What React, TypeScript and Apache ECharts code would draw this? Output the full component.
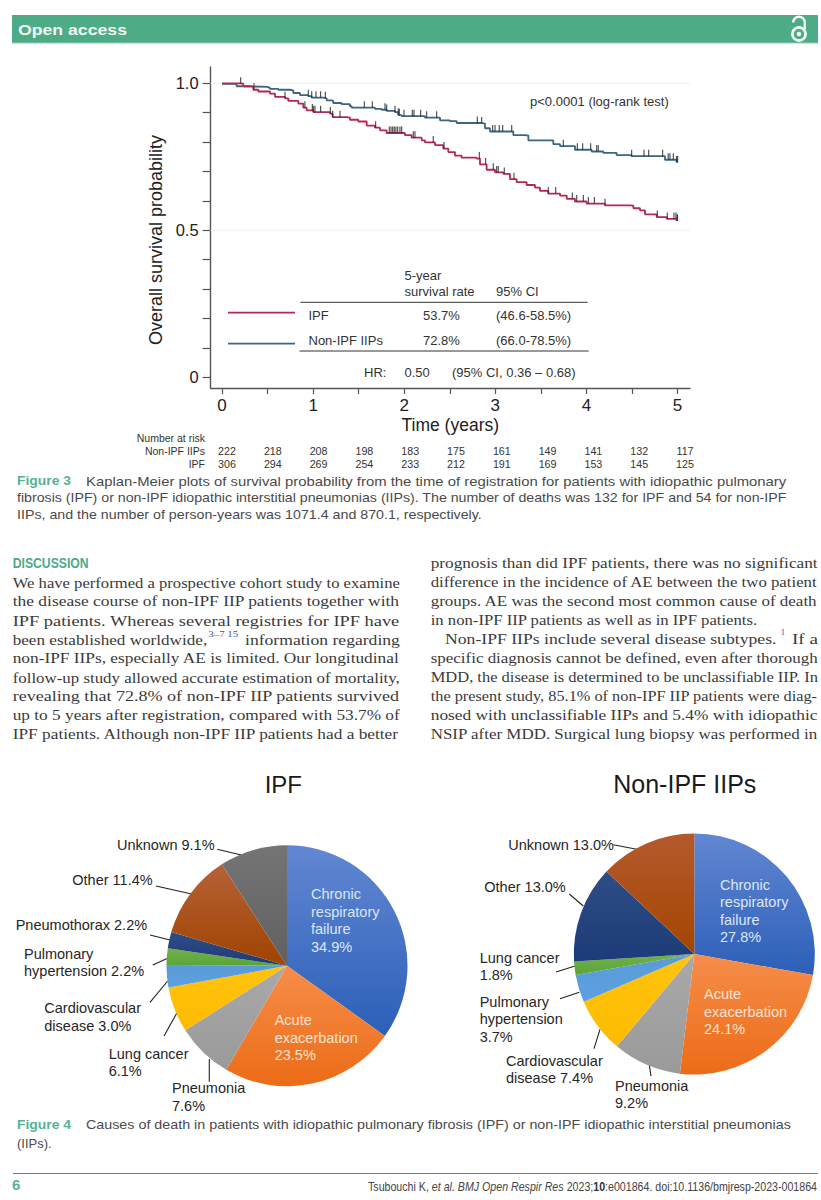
import React, { useEffect, useRef } from "react";
import * as echarts from "echarts";

// ---------- Kaplan-Meier data (time in years, survival probability) ----------
const nonIpfTimes = [0, 0.142, 0.16, 0.233, 0.508, 0.526, 0.617, 0.746, 0.782, 0.855, 0.947, 0.984, 1.112, 1.148, 1.203, 1.221, 1.313, 1.404, 1.423, 1.642, 1.679, 1.752, 1.807, 1.899, 1.935, 1.972, 2.192, 2.228, 2.356, 2.393, 2.502, 2.576, 2.777, 2.85, 2.887, 2.942, 3.18, 3.198, 3.326, 3.363, 3.601, 3.637, 3.711, 3.857, 3.875, 4.04, 4.058, 4.168, 4.186, 4.314, 4.332, 4.479, 4.497, 4.827, 4.863, 4.955, 4.991];
const nonIpfSurvival = [0.998, 0.997, 0.99, 0.988, 0.985, 0.981, 0.978, 0.976, 0.967, 0.96, 0.956, 0.951, 0.949, 0.942, 0.94, 0.933, 0.929, 0.922, 0.917, 0.917, 0.913, 0.91, 0.906, 0.902, 0.892, 0.888, 0.888, 0.883, 0.883, 0.874, 0.871, 0.865, 0.865, 0.863, 0.847, 0.836, 0.836, 0.824, 0.822, 0.806, 0.806, 0.793, 0.786, 0.786, 0.774, 0.774, 0.768, 0.768, 0.763, 0.763, 0.756, 0.756, 0.752, 0.752, 0.74, 0.74, 0.731];
const ipfTimes = [0, 0.197, 0.233, 0.325, 0.343, 0.398, 0.526, 0.581, 0.691, 0.727, 0.837, 0.892, 0.929, 1.002, 1.075, 1.185, 1.214, 1.368, 1.404, 1.496, 1.588, 1.679, 1.734, 1.807, 1.972, 2.008, 2.081, 2.137, 2.192, 2.228, 2.338, 2.429, 2.484, 2.557, 2.63, 2.795, 2.832, 2.905, 2.997, 3.088, 3.161, 3.234, 3.344, 3.436, 3.491, 3.582, 3.711, 3.784, 3.875, 4.003, 4.205, 4.479, 4.516, 4.589, 4.644, 4.772, 4.882, 4.991];
const ipfSurvival = [1, 0.999, 0.99, 0.988, 0.978, 0.972, 0.965, 0.954, 0.949, 0.94, 0.931, 0.917, 0.908, 0.902, 0.902, 0.897, 0.885, 0.883, 0.876, 0.87, 0.856, 0.849, 0.84, 0.831, 0.831, 0.824, 0.815, 0.815, 0.806, 0.799, 0.79, 0.778, 0.766, 0.754, 0.747, 0.744, 0.724, 0.706, 0.697, 0.692, 0.674, 0.664, 0.654, 0.645, 0.634, 0.625, 0.618, 0.607, 0.598, 0.591, 0.585, 0.584, 0.575, 0.568, 0.554, 0.545, 0.539, 0.532];
const nonIpfCensored = [0.947, 0.984, 1.031, 1.082, 1.134, 1.562, 1.65, 1.789, 1.807, 1.899, 1.935, 1.946, 1.997, 2.089, 2.107, 2.18, 2.246, 2.356, 2.803, 2.85, 2.971, 2.997, 3.044, 3.081, 3.18, 3.747, 3.901, 3.959, 4.047, 4.113, 4.131, 4.497, 4.633, 4.684, 4.837, 4.899, 4.918, 4.955, 4.991, 5.002];
const ipfCensored = [0.204, 0.35, 0.691, 0.91, 0.991, 1.002, 1.02, 1.082, 1.189, 1.214, 1.295, 1.686, 1.836, 1.855, 1.873, 1.891, 1.909, 1.928, 1.953, 1.972, 2.1, 2.118, 2.319, 2.437, 2.825, 2.894, 2.978, 3.015, 3.033, 3.099, 3.205, 3.582, 3.663, 3.846, 3.894, 3.967, 4.022, 4.088, 4.205, 4.779, 4.889, 4.962, 4.984, 4.998, 5.0];
const xTickValues = [0, 0.5, 1, 1.5, 2, 2.5, 3, 3.5, 4, 4.5, 5];
const xLabelValues = [0, 1, 2, 3, 4, 5];
const yTickValues = [0, 0.1, 0.2, 0.3, 0.4, 0.5, 0.6, 0.7, 0.8, 0.9, 1];
const yLabelValues = [0, 0.5, 1];
const refLines = [1, 0.5];
const riskNonIpf = [222, 218, 208, 198, 183, 175, 161, 149, 141, 132, 117];
const riskIpf = [306, 294, 269, 254, 233, 212, 191, 169, 153, 145, 125];

// ---------- Pie data ----------
const ipfCauseNames = ["Chronic\nrespiratory\nfailure\n", "Acute\nexacerbation\n", "Pneumonia\n", "Lung cancer\n", "Cardiovascular\ndisease ", "Pulmonary\nhypertension ", "Pneumothorax ", "Other ", "Unknown "];
const ipfCauseValues = [34.9, 23.5, 7.6, 6.1, 3.0, 2.2, 2.2, 11.4, 9.1];
const nonIpfCauseNames = ["Chronic\nrespiratory\nfailure\n", "Acute\nexacerbation\n", "Pneumonia\n", "Cardiovascular\ndisease ", "Pulmonary\nhypertension\n", "Lung cancer\n", "Other ", "Unknown "];
const nonIpfCauseValues = [27.8, 24.1, 9.2, 7.4, 3.7, 1.8, 13.0, 13.0];

// ---------- Article text ----------
const fig3Lines = [
  "Kaplan-Meier plots of survival probability from the time of registration for patients with idiopathic pulmonary",
  "fibrosis (IPF) or non-IPF idiopathic interstitial pneumonias (IIPs). The number of deaths was 132 for IPF and 54 for non-IPF",
  "IIPs, and the number of person-years was 1071.4 and 870.1, respectively.",
];
const fig4Lines = [
  "Causes of death in patients with idiopathic pulmonary fibrosis (IPF) or non-IPF idiopathic interstitial pneumonias",
  "(IIPs).",
];
const leftColumn = [
  "We have performed a prospective cohort study to examine",
  "the disease course of non-IPF IIP patients together with",
  "IPF patients. Whereas several registries for IPF have",
  "",
  "non-IPF IIPs, especially AE is limited. Our longitudinal",
  "follow-up study allowed accurate estimation of mortality,",
  "revealing that 72.8% of non-IPF IIP patients survived",
  "up to 5 years after registration, compared with 53.7% of",
  "IPF patients. Although non-IPF IIP patients had a better",
];
const rightColumn = [
  "prognosis than did IPF patients, there was no significant",
  "difference in the incidence of AE between the two patient",
  "groups. AE was the second most common cause of death",
  "",
  "",
  "specific diagnosis cannot be defined, even after thorough",
  "MDD, the disease is determined to be unclassifiable IIP. In",
  "the present study, 85.1% of non-IPF IIP patients were diag-",
  "nosed with unclassifiable IIPs and 5.4% with idiopathic",
  "NSIP after MDD. Surgical lung biopsy was performed in",
];

// ---------- Styles ----------
const SANS = '"Liberation Sans", Arial, sans-serif';
const SERIF = '"Liberation Serif", "Times New Roman", serif';
const NARROW = '"Liberation Sans Narrow", "Liberation Sans", sans-serif';
const GREEN = "#4dab85";
const CAPTION_GREEN = "#56b294";
const RED = "#b5294f";
const BLUE = "#3b6584";
const BODY = "#3a3a3a";
const CAPTION = "#4a4a4a";
const LABEL = "#262626";
const AXIS = "#555555";

const grad = (a: string, b: string) => ({
  type: "linear", x: 0, y: 0, x2: 0, y2: 1,
  colorStops: [{ offset: 0, color: a }, { offset: 1, color: b }],
});
const sliceBlue = grad("#6287d2", "#2c5fb8");
const sliceOrange = grad("#f68d4a", "#ec6c17");
const sliceGray = grad("#a9a9a9", "#9a9a9a");
const sliceYellow = grad("#ffc40d", "#fdbb00");
const sliceSky = grad("#5b9bd5", "#5aa0e2");
const sliceGreen = grad("#72b04a", "#5aa53a");
const sliceNavy = grad("#2f4d85", "#1c3b78");
const sliceBrown = grad("#b56238", "#a14300");
const sliceDark = grad("#757575", "#606060");
const sliceRust = grad("#b55a2e", "#a34500");

const ipfSliceColors = [sliceBlue, sliceOrange, sliceGray, sliceYellow, sliceSky, sliceGreen, sliceNavy, sliceBrown, sliceDark];
const nonIpfSliceColors = [sliceBlue, sliceOrange, sliceGray, sliceYellow, sliceSky, sliceGreen, sliceNavy, sliceRust];

const ipfLabelPos = [[311, 920.7], [274.7, 1037.7], [172, 1097], [108.7, 1062.3], [44.3, 1017], [24, 962.3], [15.7, 924.7], [72.3, 880.3], [117, 844.7]];
const nonIpfLabelPos = [[720, 911], [704, 1011.7], [615, 1094.5], [506, 1069.3], [479.7, 1019.3], [479.7, 966.7], [484.3, 886.7], [508.3, 844.7]];
const ipfLeaders = [[217.3, 849.3, 242.3, 855.3], [156, 886, 192.7, 894.3], [150, 935, 170, 940], [152.7, 965, 167.7, 958.3], [150, 1002.3, 167.7, 981], [164, 1036, 176.7, 1013.3], [209.3, 1059, 209.3, 1081.7]];
const nonIpfLeaders = [[613.3, 844.7, 636.7, 849.3], [569.3, 894, 583.3, 906], [556, 972, 575, 966], [560, 998.7, 579.3, 992.3], [594, 1048.7, 600, 1029.3], [651, 1076, 649.3, 1065]];

// ---------- Helpers ----------
let measureCtx: CanvasRenderingContext2D | null = null;
function measure(text: string, font: string) {
  if (!measureCtx) measureCtx = document.createElement("canvas").getContext("2d");
  measureCtx!.font = font;
  return measureCtx!.measureText(text).width;
}
type TOpts = { size?: number; family?: string; weight?: string; style?: string; color?: string; align?: string; fit?: number; rotation?: number; rich?: any; raw?: string };
function txt(text: string, x: number, y: number, o: TOpts = {}) {
  const size = o.size ?? 13;
  const family = o.family ?? SANS;
  const weight = o.weight ?? "normal";
  const scaleX = o.fit ? o.fit / measure(o.raw ?? text, `${weight} ${size}px ${family}`) : 1;
  return {
    type: "text", x, y, scaleX, silent: true,
    style: {
      text, x: 0, y: 0, fontSize: size, fontFamily: family, fontWeight: weight,
      fontStyle: o.style ?? "normal", fill: o.color ?? "#333", align: o.align ?? "left",
      verticalAlign: "middle", rich: o.rich,
    },
  };
}
function seg(x1: number, y1: number, x2: number, y2: number, stroke: string, lineWidth = 1) {
  return { type: "line", silent: true, shape: { x1, y1, x2, y2 }, style: { stroke, lineWidth } };
}
function stepAt(times: number[], values: number[], t: number) {
  let v = values[0];
  for (let i = 0; i < times.length; i++) if (times[i] <= t) v = values[i];
  return v;
}
const zip = (a: number[], b: number[]) => a.map((v, i) => [v, b[i]]);

function pieSeries(center: number[], names: string[], values: number[], colors: any[], pos: number[][]) {
  return {
    type: "pie", center, radius: 120.5, startAngle: 90, clockwise: true, avoidLabelOverlap: false,
    silent: true,
    labelLine: { show: false },
    data: names.map((n, i) => ({
      name: n, value: values[i],
      itemStyle: { color: colors[i], borderWidth: 0 },
      label: {
        show: true, formatter: `${n}${values[i].toFixed(1)}%`, fontSize: 14.5, lineHeight: 17.5,
        fontFamily: SANS, align: "left", color: i === 0 ? "#dde6f6" : i === 1 ? "#fbe4d3" : LABEL,
      },
    })),
    labelLayout: (p: any) => ({ x: pos[p.dataIndex][0], y: pos[p.dataIndex][1], align: "left", verticalAlign: "middle", hideOverlap: false }),
  };
}

export default function App() {
  const ref = useRef<HTMLDivElement>(null);
  useEffect(() => {
    const chart = echarts.init(ref.current!, null, { renderer: "svg" });
    const g: any[] = [];

    // Banner
    g.push({ type: "rect", silent: true, shape: { x: 12, y: 15, width: 806, height: 28 }, style: { fill: GREEN } });
    g.push(seg(12, 43, 818, 43, "#8fd0b6", 1));
    g.push(txt("Open access", 18, 30, { size: 15.5, weight: "bold", color: "#f2f8f5", fit: 109 }));
    g.push({ type: "circle", silent: true, shape: { cx: 799, cy: 34, r: 6.6 }, style: { fill: "none", stroke: "#f4faf7", lineWidth: 2.6 } });
    g.push({ type: "circle", silent: true, shape: { cx: 799, cy: 34, r: 2.3 }, style: { fill: "#f4faf7" } });
    g.push({ type: "arc", silent: true, shape: { cx: 799, cy: 22.5, r: 5.8, startAngle: Math.PI, endAngle: 2 * Math.PI, clockwise: true }, style: { fill: "none", stroke: "#f4faf7", lineWidth: 2.4 } });
    g.push(seg(804.8, 22.5, 804.8, 29, "#f4faf7", 2.4));

    // KM annotations and table
    g.push(txt("p<0.0001 (log-rank test)", 530, 102, { size: 13, fit: 139 }));
    g.push(txt("5-year", 404.5, 275, { size: 13 }));
    g.push(txt("survival rate", 404.5, 291, { size: 13 }));
    g.push(txt("95% CI", 496, 291, { size: 13 }));
    g.push(seg(300.5, 302.3, 587.6, 302.3, "#333", 1));
    g.push(seg(228, 312.7, 295, 312.7, RED, 1.8));
    g.push(seg(228, 343.7, 295, 343.7, BLUE, 1.8));
    g.push(txt("IPF", 308.5, 315, { size: 13 }));
    g.push(txt("53.7%", 423, 315, { size: 13 }));
    g.push(txt("(46.6-58.5%)", 496, 315, { size: 13 }));
    g.push(txt("Non-IPF IIPs", 308.5, 340, { size: 13 }));
    g.push(txt("72.8%", 423, 340, { size: 13 }));
    g.push(txt("(66.0-78.5%)", 496, 340, { size: 13 }));
    g.push(seg(299.5, 351, 588.6, 351, "#333", 1));
    g.push(txt("HR:", 364, 372, { size: 13 }));
    g.push(txt("0.50", 404.5, 372, { size: 13 }));
    g.push(txt("(95% CI, 0.36 – 0.68)", 452, 372, { size: 13 }));

    // Number at risk
    g.push(txt("Number at risk", 205, 437.7, { size: 10.5, align: "right" }));
    g.push(txt("Non-IPF IIPs", 205, 451, { size: 10.5, align: "right" }));
    g.push(txt("IPF", 205, 464, { size: 10.5, align: "right" }));
    riskNonIpf.forEach((v, i) => g.push(txt(String(v), 227 + 45.8 * i, 451, { size: 10.7, align: "center" })));
    riskIpf.forEach((v, i) => g.push(txt(String(v), 227 + 45.8 * i, 464, { size: 10.7, align: "center" })));

    // Figure 3 caption
    const capFit = [701, 770, 465];
    const capX = [86, 17, 17];
    g.push(txt("Figure 3", 17, 481, { size: 13, weight: "bold", color: CAPTION_GREEN, fit: 54 }));
    fig3Lines.forEach((l, i) => g.push(txt(l, capX[i], 481 + 17 * i, { size: 13, color: CAPTION, fit: capFit[i] })));

    // Discussion
    g.push(txt("DISCUSSION", 12.7, 563, { size: 14, family: NARROW, weight: "bold", color: "#4fa98a", fit: 76 }));
    const colStep = 18.95;
    const leftTop = 582.7;
    const rightTop = 563.3;
    const bodyOpt = { size: 15, family: SERIF, color: BODY };
    leftColumn.forEach((l, i) => {
      if (l) g.push(txt(l, 12.7, leftTop + colStep * i, { ...bodyOpt, fit: 387.3 }));
    });
    g.push(txt("been established worldwide,", 12.7, leftTop + colStep * 3, { ...bodyOpt, fit: 194.6 }));
    g.push(txt("3–7 15", 208.3, 634, { size: 8.5, family: SERIF, color: "#4a4aa8", fit: 30 }));
    g.push(txt("information regarding", 245, leftTop + colStep * 3, { ...bodyOpt, fit: 155 }));
    rightColumn.forEach((l, i) => {
      if (l) g.push(txt(l, 430.7, rightTop + colStep * i, { ...bodyOpt, fit: 387.3 }));
    });
    g.push(txt("in non-IPF IIP patients as well as in IPF patients.", 430.7, rightTop + colStep * 3, { ...bodyOpt, fit: 327 }));
    g.push(txt("Non-IPF IIPs include several disease subtypes.", 445, rightTop + colStep * 4, { ...bodyOpt, fit: 331.7 }));
    g.push(txt("1", 780.7, 632, { size: 8.5, family: SERIF, color: "#4a4aa8" }));
    g.push(txt("If a", 792, rightTop + colStep * 4, { ...bodyOpt, fit: 26 }));

    // Pie titles and leaders
    g.push(txt("IPF", 283.3, 784.3, { size: 24, align: "center", color: "#1a1a1a" }));
    g.push(txt("Non-IPF IIPs", 684.8, 784.3, { size: 25, align: "center", color: "#1a1a1a" }));
    [...ipfLeaders, ...nonIpfLeaders].forEach((s) => g.push(seg(s[0], s[1], s[2], s[3], "#222", 1.1)));

    // Figure 4 caption
    g.push(txt("Figure 4", 17, 1124.3, { size: 13, weight: "bold", color: CAPTION_GREEN, fit: 54 }));
    g.push(txt(fig4Lines[0], 86, 1124.3, { size: 13, color: CAPTION, fit: 705.7 }));
    g.push(txt(fig4Lines[1], 17, 1143, { size: 13, color: CAPTION }));

    // Footer
    g.push(seg(13, 1173.5, 818, 1173.5, "#777", 1));
    g.push(txt("6", 12, 1184.5, { size: 15, weight: "bold", color: CAPTION_GREEN }));
    g.push(txt("Tsubouchi K, {i|et al. BMJ Open Respir Res} 2023;{b|10}:e001864. doi:10.1136/bmjresp-2023-001864", 368, 1186, {
      size: 12.5, family: NARROW, color: "#444", fit: 449,
      raw: "Tsubouchi K, et al. BMJ Open Respir Res 2023;10:e001864. doi:10.1136/bmjresp-2023-001864",
      rich: {
        i: { fontStyle: "italic", fontSize: 12.5, fontFamily: NARROW, fill: "#444" },
        b: { fontWeight: "bold", fontSize: 12.5, fontFamily: NARROW, fill: "#333" },
      },
    }));

    const xMin = -0.126;
    const xMax = 5.138;
    chart.setOption({
      animation: false,
      backgroundColor: "#ffffff",
      textStyle: { fontFamily: SANS },
      grid: { left: 210.6, top: 67, width: 479.4, height: 321 },
      xAxis: {
        type: "value", min: xMin, max: xMax, name: "Time (years)", nameLocation: "middle", nameGap: 28,
        nameTextStyle: { fontSize: 17.5, color: "#222", fontFamily: SANS },
        axisLine: { onZero: false, lineStyle: { color: AXIS, width: 1.4 } },
        axisTick: { length: 6, lineStyle: { color: AXIS, width: 1.2 }, customValues: xTickValues },
        axisLabel: { customValues: xLabelValues, fontSize: 17, color: "#222", margin: 9, formatter: (v: number) => String(v), showMinLabel: true, showMaxLabel: true },
        splitLine: { show: false },
      },
      yAxis: {
        type: "value", min: -0.0364, max: 1.0554, name: "Overall survival probability", nameLocation: "middle", nameGap: 46,
        nameTextStyle: { fontSize: 18, color: "#222", fontFamily: SANS, padding: [0, 25, 0, 0] },
        axisLine: { onZero: false, lineStyle: { color: AXIS, width: 1.4 } },
        axisTick: { length: 8, lineStyle: { color: AXIS, width: 1.2 }, customValues: yTickValues },
        axisLabel: { customValues: yLabelValues, fontSize: 16.5, color: "#222", margin: 12, formatter: (v: number) => (v === 0 ? "0" : v.toFixed(1)) },
        splitLine: { show: false },
      },
      series: [
        ...refLines.map((v) => ({
          type: "line", silent: true, symbol: "none", lineStyle: { color: "#e8f1f0", width: 1 },
          data: [[xMin, v], [xMax, v]], z: 1,
        })),
        { name: "Non-IPF IIPs", type: "line", step: "end", symbol: "none", lineStyle: { color: BLUE, width: 1.8 }, data: zip(nonIpfTimes, nonIpfSurvival), z: 3 },
        { name: "IPF", type: "line", step: "end", symbol: "none", lineStyle: { color: RED, width: 1.8 }, data: zip(ipfTimes, ipfSurvival), z: 3 },
        {
          type: "scatter", silent: true, symbol: "rect", symbolSize: [1.2, 6.5], symbolOffset: [0, -3.2], itemStyle: { color: "#222b30" },
          data: nonIpfCensored.map((t) => [t, stepAt(nonIpfTimes, nonIpfSurvival, t)]), z: 4,
        },
        {
          type: "scatter", silent: true, symbol: "rect", symbolSize: [1.2, 6.5], symbolOffset: [0, -3.2], itemStyle: { color: "#2e2428" },
          data: ipfCensored.map((t) => [t, stepAt(ipfTimes, ipfSurvival, t)]), z: 4,
        },
        pieSeries([287, 965.7], ipfCauseNames, ipfCauseValues, ipfSliceColors, ipfLabelPos),
        pieSeries([694.3, 954], nonIpfCauseNames, nonIpfCauseValues, nonIpfSliceColors, nonIpfLabelPos),
      ],
      graphic: { elements: g },
    } as any);
    return () => chart.dispose();
  }, []);
  return <div ref={ref} style={{ position: "absolute", left: 0, top: 0, width: 821, height: 1200 }} />;
}
